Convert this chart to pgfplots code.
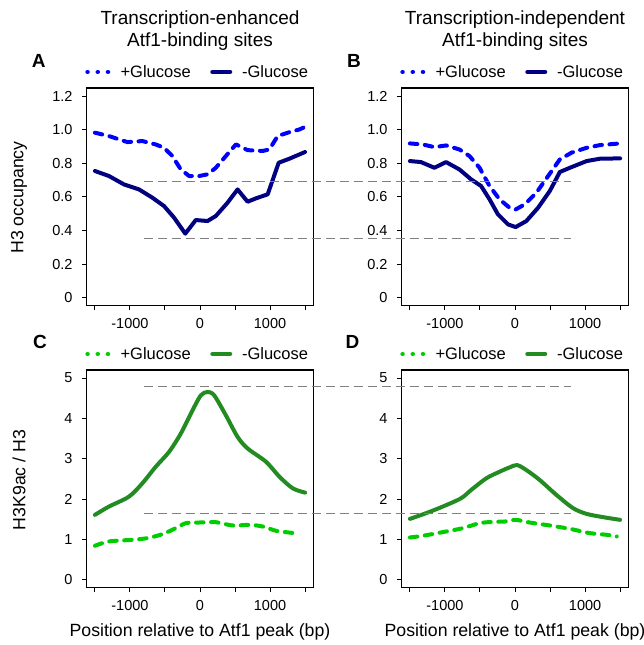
\documentclass[border=0pt]{standalone}
\usepackage{fontspec}
\setmainfont{Liberation Sans}
\usepackage{pgfplots}
\pgfplotsset{compat=1.18}

\definecolor{hblue}{RGB}{0,0,255}
\definecolor{hnavy}{RGB}{0,0,128}
\definecolor{hgreen}{RGB}{34,139,34}
\definecolor{hlime}{RGB}{0,205,0}

\newcommand\tickfont{\fontsize{14.5}{16}\selectfont}
\newcommand\legfont{\fontsize{16.5}{19}\selectfont}
\newcommand\labfont{\fontsize{17.7}{20}\selectfont}
\newcommand\titfont{\fontsize{19}{22}\selectfont}

\pgfplotsset{
  panel/.style={
    scale only axis, width=227pt, height=217.7pt,
    xmin=-1620, xmax=1620,
    xtick={-1500,-1000,...,1500}, xticklabels={,-1000,,0,,1000,},
    tick align=outside, major tick length=4.5pt,
    tick style={black, line width=1pt},
    xtick pos=bottom, ytick pos=left,
    axis line style={line width=1.2pt},
    xticklabel style={font=\tickfont, inner sep=0pt, yshift=-7.8pt},
    yticklabel style={font=\tickfont, inner sep=0pt, xshift=-9.3pt},
    legend columns=2,
    legend style={draw=none, fill=none, inner sep=0pt, outer sep=0pt,
      nodes={inner sep=0pt, font=\legfont},
      at={(axis description cs:0,1)}, anchor=west, xshift=-1.2pt, yshift=16pt,
      /tikz/every odd column/.append style={column sep=9.8pt},
      /tikz/every even column/.append style={column sep=19.5pt}},
    every axis plot/.append style={line width=4pt, line cap=round, line join=round},
  },
  h3/.style={ymin=-0.048, ymax=1.248, ytick={0,0.2,...,1.2},
    yticklabels={0,0.2,0.4,0.6,0.8,1.0,1.2}},
  ac/.style={ymin=-0.2, ymax=5.2, ytick={0,1,...,5}, yticklabels={0,1,2,3,4,5}},
  dashline/.style={dash pattern=on 7.5pt off 7.5pt},
  dotleg/.style={legend image code/.code={
    \draw[#1, line width=4.5pt, line cap=round, dash pattern=on 0.01pt off 10.2pt] (0pt,0pt) -- (21pt,0pt);}},
  solleg/.style={legend image code/.code={
    \draw[#1, line width=4.5pt, line cap=round] (0pt,0pt) -- (17.5pt,0pt);}},
}

\begin{document}
\begin{tikzpicture}
\useasboundingbox (0pt,0pt) rectangle (644pt,645pt);

% A: H3, transcription-enhanced
\begin{axis}[panel, h3, at={(86.5pt,339.3pt)}, anchor=south west]
\addplot[hblue, dashline, dotleg=hblue] coordinates {
  (-1500,0.982) (-1300,0.962) (-1037,0.926) (-823,0.932) (-632,0.912) (-513,0.892)
  (-394,0.843) (-274,0.763) (-155,0.724) (-12,0.724) (107,0.734) (226,0.773)
  (369,0.843) (513,0.912) (679,0.878) (894,0.873) (989,0.882) (1109,0.962)
  (1276,0.985) (1419,1.001) (1500,1.017)};
\addlegendentry{+Glucose}
\addplot[hnavy, solleg=hnavy] coordinates {
  (-1500,0.754) (-1300,0.724) (-1085,0.674) (-870,0.644) (-680,0.595) (-513,0.545)
  (-370,0.476) (-210,0.381) (-60,0.462) (107,0.456) (226,0.486) (393,0.565)
  (536,0.644) (679,0.571) (799,0.591) (966,0.615) (1123,0.803) (1276,0.827)
  (1500,0.867)};
\addlegendentry{-Glucose}
\coordinate (a1) at (axis cs:-800,0.69);
\coordinate (a2) at (axis cs:-800,0.35);
\end{axis}

% B: H3, transcription-independent
\begin{axis}[panel, h3, at={(401.5pt,339.3pt)}, anchor=south west]
\addplot[hblue, dashline, dotleg=hblue] coordinates {
  (-1500,0.918) (-1318,0.912) (-1151,0.896) (-984,0.906) (-793,0.882) (-650,0.843)
  (-506,0.773) (-363,0.664) (-220,0.585) (-77,0.535) (9,0.525) (139,0.555)
  (306,0.625) (473,0.724) (640,0.823) (807,0.863) (1022,0.892) (1213,0.908)
  (1500,0.918)};
\addlegendentry{+Glucose}
\addplot[hnavy, solleg=hnavy] coordinates {
  (-1500,0.813) (-1342,0.807) (-1151,0.773) (-984,0.807) (-793,0.763) (-626,0.704)
  (-483,0.664) (-363,0.585) (-244,0.496) (-100,0.436) (9,0.420) (162,0.456)
  (329,0.535) (497,0.635) (640,0.748) (783,0.773) (1022,0.813) (1213,0.827)
  (1500,0.829)};
\addlegendentry{-Glucose}
\coordinate (b1) at (axis cs:800,0.69);
\coordinate (b2) at (axis cs:800,0.35);
\end{axis}

% C: H3K9ac/H3, transcription-enhanced
\begin{axis}[panel, ac, at={(86.5pt,57.3pt)}, anchor=south west]
\addplot[hlime, dashline, dotleg=hlime, smooth] coordinates {
  (-1500,0.84) (-1300,0.947) (-966,0.988) (-751,1.03) (-537,1.128) (-346,1.277)
  (-203,1.40) (-12,1.417) (226,1.425) (465,1.343) (703,1.359) (894,1.318)
  (1085,1.211) (1228,1.178) (1419,1.137)};
\addlegendentry{+Glucose}
\addplot[hgreen, solleg=hgreen, smooth] coordinates {
  (-1500,1.606) (-1300,1.812) (-1014,2.059) (-823,2.389) (-632,2.80) (-441,3.171)
  (-274,3.624) (-107,4.20) (12,4.572) (107,4.654) (202,4.572) (369,4.077)
  (536,3.542) (679,3.254) (942,2.924) (1133,2.554) (1324,2.265) (1500,2.158)};
\addlegendentry{-Glucose}
\coordinate (c1) at (axis cs:-800,4.78);
\coordinate (c2) at (axis cs:-800,1.64);
\end{axis}

% D: H3K9ac/H3, transcription-independent
\begin{axis}[panel, ac, at={(401.5pt,57.3pt)}, anchor=south west]
\addplot[hlime, dashline, dotleg=hlime, smooth] coordinates {
  (-1500,1.046) (-1318,1.087) (-1032,1.178) (-745,1.277) (-506,1.40) (-315,1.433)
  (-148,1.441) (9,1.483) (210,1.417) (497,1.343) (783,1.26) (1070,1.153)
  (1309,1.112) (1452,1.071)};
\addlegendentry{+Glucose}
\addplot[hgreen, solleg=hgreen, smooth] coordinates {
  (-1500,1.507) (-1271,1.647) (-1032,1.812) (-770,2.018) (-626,2.224) (-411,2.512)
  (-220,2.677) (-77,2.784) (29,2.842) (162,2.718) (353,2.471) (592,2.10)
  (831,1.771) (1022,1.631) (1261,1.549) (1500,1.483)};
\addlegendentry{-Glucose}
\coordinate (d1) at (axis cs:800,4.78);
\coordinate (d2) at (axis cs:800,1.64);
\end{axis}

% grey guide lines across panels
\begin{scope}[black!50, line width=1pt, dash pattern=on 9pt off 5pt]
\draw (a1) -- (b1);
\draw (a2) -- (b2);
\draw (c1) -- (d1);
\draw (c2) -- (d2);
\end{scope}

% titles
\node[font=\titfont, anchor=base] at (200pt,620pt) {Transcription-enhanced};
\node[font=\titfont, anchor=base] at (200pt,598.3pt) {Atf1-binding sites};
\node[font=\titfont, anchor=base] at (515pt,620pt) {Transcription-independent};
\node[font=\titfont, anchor=base] at (515pt,598.3pt) {Atf1-binding sites};

% panel letters
\node[font=\titfont\bfseries, anchor=base west, inner sep=0pt] at (31.7pt,577pt) {A};
\node[font=\titfont\bfseries, anchor=base west, inner sep=0pt] at (347pt,577pt) {B};
\node[font=\titfont\bfseries, anchor=base west, inner sep=0pt] at (33pt,296.7pt) {C};
\node[font=\titfont\bfseries, anchor=base west, inner sep=0pt] at (345.3pt,296.7pt) {D};

% axis labels
\node[font=\labfont, rotate=90] at (19pt,447.5pt) {H3 occupancy};
\node[font=\labfont, rotate=90] at (19pt,165pt) {H3K9ac / H3};
\node[font=\labfont, anchor=base] at (200pt,8.3pt) {Position relative to Atf1 peak (bp)};
\node[font=\labfont, anchor=base] at (515pt,8.3pt) {Position relative to Atf1 peak (bp)};
\end{tikzpicture}
\end{document}
